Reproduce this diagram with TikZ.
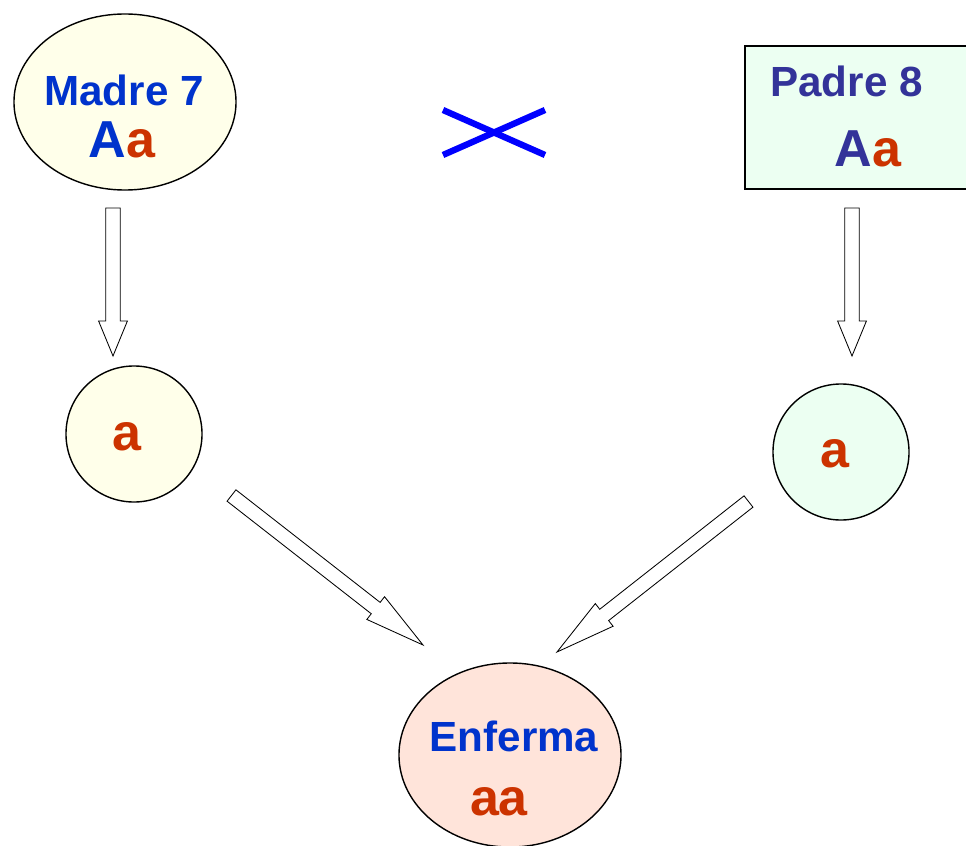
\documentclass[tikz,border=0pt]{standalone}
\usepackage{fontspec}
\setmainfont{Liberation Sans}
\usetikzlibrary{shapes.geometric,calc}

\definecolor{genblue}{RGB}{0,51,204}
\definecolor{padreblue}{RGB}{51,51,153}
\definecolor{allelered}{RGB}{204,51,0}
\definecolor{crossblue}{RGB}{0,0,255}
\definecolor{madrefill}{RGB}{255,255,234}
\definecolor{padrefill}{RGB}{236,255,242}
\definecolor{enfermafill}{RGB}{255,228,218}

% hollow block arrow: from, to, head length
\newcommand{\hollowarrow}[3]{%
  \coordinate (hb) at ($(#2)!#3!(#1)$);
  \draw[black,line width=0.6pt,fill=white,line join=miter]
    ($(#1)!0.18cm!90:(#2)$) -- ($(hb)!0.18cm!-90:(#1)$)
    -- ($(hb)!0.36cm!-90:(#1)$) -- (#2)
    -- ($(hb)!0.36cm!90:(#1)$) -- ($(hb)!0.18cm!90:(#1)$)
    -- ($(#1)!0.18cm!-90:(#2)$) -- cycle;
}

\tikzset{
  txt/.style={font=\bfseries\fontsize{30}{36}\selectfont,inner sep=0pt,anchor=base},
  bigtxt/.style={font=\bfseries\fontsize{37}{44}\selectfont,inner sep=0pt,anchor=base},
  outline/.style={draw=black,line width=1pt,inner sep=0pt},
}

\begin{document}
\begin{tikzpicture}[x=0.025cm,y=-0.025cm]
  \useasboundingbox (0,0) rectangle (966,846);
  \clip (0,0) rectangle (966,846);

  % parents
  \node[outline,ellipse,fill=madrefill,minimum width=5.55cm,minimum height=4.4cm] (madre) at (125,102) {};
  \node[txt,text=genblue] (madrelbl) at (124,106) {Madre 7};
  \node[bigtxt] (madregen) at (122,158) {{\color{genblue}A}{\color{allelered}a}};

  \draw[outline,fill=padrefill] (745,46) rectangle (975,189);
  \node[txt,text=padreblue,anchor=base west] (padrelbl) at (770,97) {Padre 8};
  \node[bigtxt] (padregen) at (868,167) {{\color{padreblue}A}{\color{allelered}a}};

  % cross
  \draw[crossblue,line width=4.5pt] (443,110) -- (545,155);
  \draw[crossblue,line width=4.5pt] (443,155) -- (545,110);

  % gametes
  \node[outline,circle,fill=madrefill,minimum size=3.4cm] (gmadre) at (134,434) {};
  \node[bigtxt,text=allelered] (gmadrelbl) at (127,450) {a};
  \node[outline,circle,fill=padrefill,minimum size=3.4cm] (gpadre) at (841,452) {};
  \node[bigtxt,text=allelered] (gpadrelbl) at (835,467) {a};

  % child
  \node[outline,ellipse,fill=enfermafill,minimum width=5.55cm,minimum height=4.6cm] (enferma) at (510,755) {};
  \node[txt,text=genblue] (enfermalbl) at (514,751) {Enferma};
  \node[bigtxt,text=allelered] (enfermagen) at (499,815) {aa};

  % arrows
  \coordinate (madreout) at (113,208);
  \coordinate (gmadrein) at (113,356);
  \coordinate (padreout) at (852,208);
  \coordinate (gpadrein) at (852,356);
  \coordinate (gmadreout) at (231.5,495.5);
  \coordinate (enfermainl) at (423,645);
  \coordinate (gpadreout) at (748.5,501.5);
  \coordinate (enfermainr) at (557,652);

  \hollowarrow{madreout}{gmadrein}{0.875cm}
  \hollowarrow{padreout}{gpadrein}{0.875cm}
  \hollowarrow{gmadreout}{enfermainl}{1.5cm}
  \hollowarrow{gpadreout}{enfermainr}{1.5cm}
\end{tikzpicture}
\end{document}
